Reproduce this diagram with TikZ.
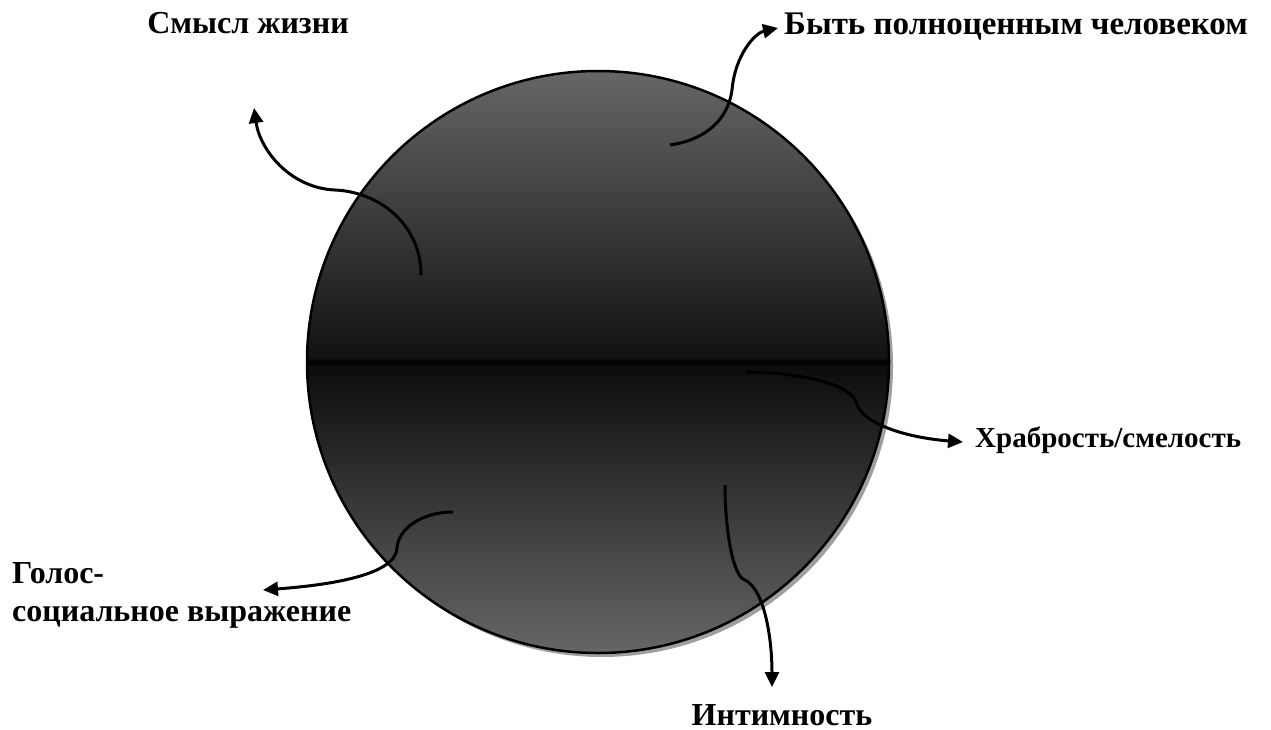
\documentclass[tikz,border=0pt]{standalone}
\usepackage{fontspec}
\setmainfont{Liberation Serif}
\usetikzlibrary{arrows.meta}
\definecolor{ballgray}{gray}{0.40}
\definecolor{balldark}{gray}{0.07}
\definecolor{balldarker}{gray}{0.05}
\pgfdeclareverticalshading{ballshade}{100bp}{color(0bp)=(ballgray); color(25bp)=(ballgray); color(49.6bp)=(balldarker); color(50bp)=(black); color(50.4bp)=(balldark); color(75bp)=(ballgray); color(100bp)=(ballgray)}
\tikzset{
  lbl/.style={font={\fontsize{32}{38}\selectfont\bfseries}, inner sep=0pt},
  conn/.style={line width=3pt, -{Triangle[length=15pt,width=14pt]}},
}
\begin{document}
\begin{tikzpicture}[x=1pt,y=-1pt]
\useasboundingbox (0,0) rectangle (1271,730);
% shadow and ball
\fill[gray!75] (602,366) circle (291);
\shade[shading=ballshade] (598,362) circle (291);
\draw[line width=2.5pt] (598,362) circle (291);
% start points
\coordinate (s1) at (421,275);
\coordinate (s2) at (670,145);
\coordinate (s3) at (746,372);
\coordinate (s4) at (453,512);
\coordinate (s5) at (725,485);
% free ends
\coordinate (e1) at (254,108);
\coordinate (e2) at (778,28);
\coordinate (e3) at (963,442);
\coordinate (e4) at (263,590);
\coordinate (e5) at (772,687);
% labels
\node[lbl] (t1) at (248,23) {Смысл жизни};
\node[lbl, anchor=west, font={\fontsize{33}{38}\selectfont\bfseries}] (t2) at (784,27) {Быть полноценным человеком};
\node[lbl, anchor=west, font={\fontsize{29}{38}\selectfont\bfseries}] (t3) at (975,440) {Храбрость/смелость};
\node[lbl, anchor=north west, align=left] (t4) at (12,562) {Голос-\\социальное выражение};
\node[lbl] (t5) at (782,715) {Интимность};
% connectors
\draw[conn] (s1) .. controls (421,225) and (380,192) .. (335,190) .. controls (290,188) and (260,150) .. (e1);
\draw[conn] (s2) .. controls (705,140) and (728,120) .. (732,90) .. controls (735,55) and (755,33) .. (e2);
\draw[conn] (s3) .. controls (800,372) and (852,385) .. (856,402) .. controls (862,425) and (910,438) .. (e3);
\draw[conn] (s4) .. controls (420,512) and (398,530) .. (397,548) .. controls (396,575) and (330,585) .. (e4);
\draw[conn] (s5) .. controls (725,530) and (733,577) .. (745,580) .. controls (765,590) and (772,640) .. (e5);
\end{tikzpicture}
\end{document}
